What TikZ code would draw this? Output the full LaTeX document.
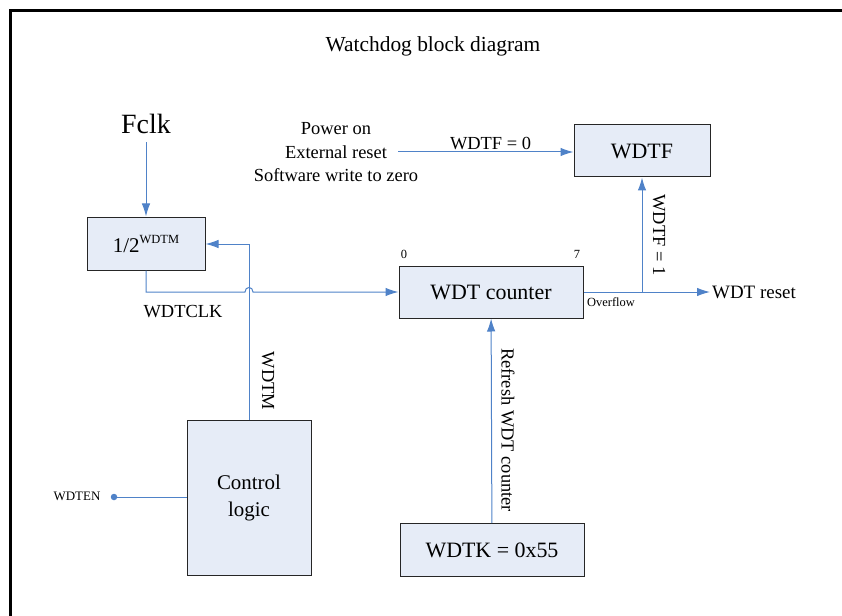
\documentclass[tikz,border=0pt]{standalone}
\usepackage{fontspec}
\setmainfont{Liberation Serif}
\usepackage[dvipsnames]{xcolor}
\usetikzlibrary{arrows.meta}

\definecolor{wireblue}{HTML}{4F82C8}
\definecolor{boxfill}{HTML}{E6ECF7}
\definecolor{boxline}{HTML}{262626}
\newcommand{\fsz}[1]{\fontsize{#1}{#1}\selectfont}

\begin{document}
\begin{tikzpicture}[x=1bp,y=-1bp,-,>={Latex[length=13bp,width=8.5bp]},auto,node distance=23.5bp,
    wire/.style={draw=wireblue,line width=1bp},
    block/.style={rectangle,draw=boxline,fill=boxfill,line width=1bp,inner sep=0pt,font=\fsz{22}},
    txt/.style={inner sep=2bp,font=\fsz{18.5}},
    tiny/.style={inner sep=1bp,font=\fsz{12.5}}]

    \useasboundingbox (0,0) rectangle (842,616);
    \draw[line width=3bp] (10.5,616) |- (842,10.5);

    \node[txt, font=\fsz{21.5}]  (t) at (433,46) {Watchdog block diagram};

    % blocks
    \node[block, minimum width=118bp, minimum height=52bp, font=\fsz{21}]  (1) at (146,244) {1/2\raisebox{9bp}{\fsz{12.5}WDTM}};
    \node[block, minimum width=184bp, minimum height=52bp]  (2) at (491,292) {WDT counter};
    \node[block, minimum width=136bp, minimum height=52bp]  (3) at (642,151) {WDTF};
    \node[block, minimum width=124bp, minimum height=155bp, align=center, font=\fontsize{21}{28}\selectfont]  (4) at (249,498) {Control\\logic};
    \node[block, minimum width=184bp, minimum height=53bp]  (5) at (492,550) {WDTK = 0x55};

    \node[txt, font=\fsz{28}]  (f) [above of = 1, node distance=120bp]{Fclk};
    \node[txt]  (p2) at (336,152) {External reset};
    \node[txt]  (p1) [above of = p2]{Power on};
    \node[txt]  (p3) [below of = p2]{Software write to zero};

    \node[tiny]  (n0) at (404,254) {0};
    \node[tiny]  (n7) at (577,254) {7};
    \node[tiny]  (o) at (611,302) {Overflow};
    \node[txt, font=\fsz{19}, anchor=west]  (r) at (710,292) {WDT reset};
    \node[txt]  (c) at (183,312) {WDTCLK};
    \node[txt, rotate=-90]  (m) at (268,381) {WDTM};
    \node[txt, rotate=-90]  (k) at (508,430) {Refresh WDT counter};
    \node[txt, rotate=-90]  (w) at (659,235) {WDTF = 1};
    \node[tiny, font=\fsz{13}]  (x) at (77,496) {WDTEN};
    \node[circle, fill=wireblue, inner sep=0pt, minimum size=6.5bp]  (d) at (114,497) {};

    \coordinate (j) at (642,292);
    \coordinate (h1) at (245,292);
    \coordinate (h2) at (253,292);

    \draw[wire, ->, shorten <=6bp] (f) -- ([yshift=1bp]1.north);
    \draw[wire, ->, shorten <=9bp] (p2.east) -- node[txt, pos=0.55] {WDTF = 0} (p2.east -| 3.west);
    \draw[wire, ->] (5) -- (2);
    \draw[wire, ->] (2.east) -- (r.west);
    \draw[wire, ->] (j) -- (3);
    \draw[wire] (d) -- (d -| 4.west);
    \draw[wire, ->] (4.north) |- (1.east);
    \draw[wire, ->] (1.south) |- (h1) .. controls ([yshift=6bp]h1) and ([yshift=6bp]h2) .. (h2) -- (2.west);
\end{tikzpicture}
\end{document}
